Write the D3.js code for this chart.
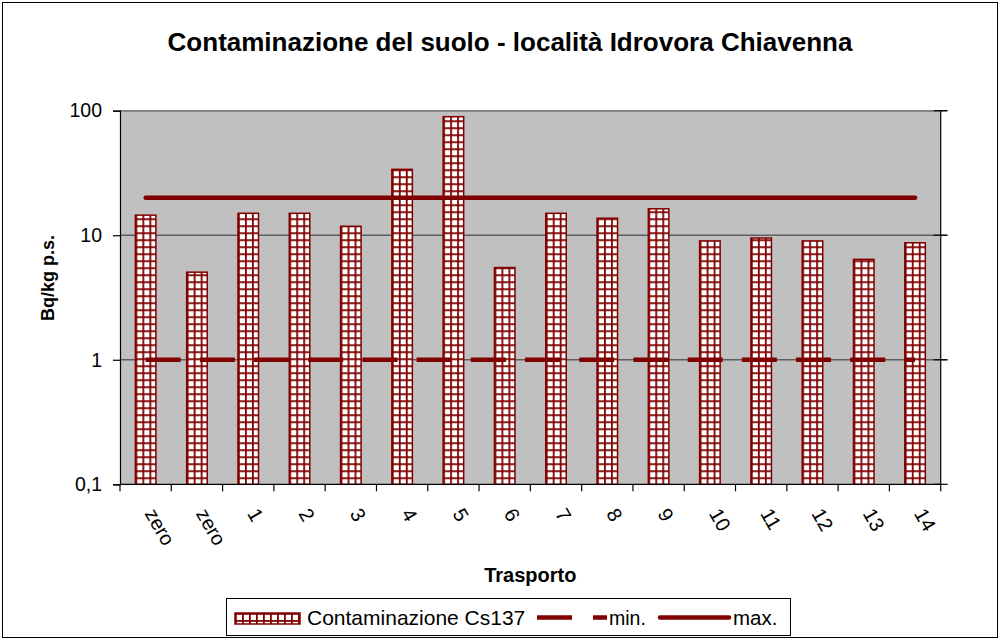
<!DOCTYPE html>
<html>
<head>
<meta charset="utf-8">
<script src="https://cdn.jsdelivr.net/npm/d3@7"></script>
<style>
  html, body { margin: 0; padding: 0; background: #fff; }
  svg { display: block; }
  text { font-family: "Liberation Sans", Arial, sans-serif; fill: #000; }
</style>
</head>
<body>
<svg id="chart" width="1000" height="640"></svg>
<script>
// ---- data ----
const categories = ["zero", "zero", "1", "2", "3", "4", "5", "6", "7", "8", "9", "10", "11", "12", "13", "14"];
const cs137 = [14.5, 5.05, 15.0, 15.0, 11.8, 33.8, 89.5, 5.5, 15.0, 13.7, 16.3, 9.0, 9.5, 9.0, 6.4, 8.7];
const minValues = [1, 1, 1, 1, 1, 1, 1, 1, 1, 1, 1, 1, 1, 1, 1, 1];
const maxValues = [20, 20, 20, 20, 20, 20, 20, 20, 20, 20, 20, 20, 20, 20, 20, 20];
const yTickValues = [0.1, 1, 10, 100];
const yTickLabels = ["0,1", "1", "10", "100"];
const seriesNames = ["Contaminazione Cs137", "min.", "max."];
const titleText = "Contaminazione del suolo - località Idrovora Chiavenna";
const xTitle = "Trasporto";
const yTitle = "Bq/kg p.s.";

// ---- layout ----
const W = 1000, H = 640;
const plot = { left: 120, right: 940.7, top: 110.7, bottom: 484.3 };
const dark = "#800000";

const svg = d3.select("#chart");
const defs = svg.append("defs");

// outer border
svg.append("rect").attr("x", 2.5).attr("y", 2.5).attr("width", W - 5).attr("height", H - 5)
  .attr("fill", "#fff").attr("stroke", "#000").attr("stroke-width", 1);

const idx = categories.map((d, i) => i);
const x = d3.scaleBand().domain(idx).range([plot.left, plot.right]).padding(0);
const step = x.step();
const barW = step * 0.4;
const y = d3.scaleLog().domain([0.1, 100]).range([plot.bottom, plot.top]);

// plot background
svg.append("rect").attr("x", plot.left).attr("y", plot.top)
  .attr("width", plot.right - plot.left).attr("height", plot.bottom - plot.top)
  .attr("fill", "#c0c0c0");

// gridlines
svg.append("g").selectAll("line").data(yTickValues.slice(1)).join("line")
  .attr("x1", plot.left).attr("x2", plot.right + 6)
  .attr("y1", d => y(d)).attr("y2", d => y(d))
  .attr("stroke", "#5e5e5e").attr("stroke-width", 1.5);

// patterns and bars
function makePattern(id, ox, oy) {
  const p = defs.append("pattern").attr("id", id).attr("patternUnits", "userSpaceOnUse")
    .attr("x", ox).attr("y", oy).attr("width", 7).attr("height", 7);
  p.append("rect").attr("width", 7).attr("height", 7).attr("fill", "#fff");
  p.append("rect").attr("x", 0).attr("y", 0).attr("width", 1.8).attr("height", 7).attr("fill", dark);
  p.append("rect").attr("x", 0).attr("y", 0).attr("width", 7).attr("height", 1.8).attr("fill", dark);
}
idx.forEach(i => makePattern("pat" + i, x(i) + step * 0.3, plot.bottom));

svg.append("g").selectAll("rect").data(cs137).join("rect")
  .attr("x", (d, i) => x(i) + step * 0.3)
  .attr("y", d => y(d))
  .attr("width", barW)
  .attr("height", d => plot.bottom - y(d))
  .attr("fill", (d, i) => `url(#pat${i})`)
  .attr("stroke", dark).attr("stroke-width", 1.5);

// min line (dashed) & max line
const line = d3.line().x((d, i) => x(i) + step / 2).y(d => y(d));
svg.append("path").datum(minValues).attr("d", line)
  .attr("fill", "none").attr("stroke", dark).attr("stroke-width", 4.5)
  .attr("stroke-dasharray", "35 19.2");
svg.append("path").datum(maxValues).attr("d", line)
  .attr("fill", "none").attr("stroke", dark).attr("stroke-width", 4.5)
  .attr("stroke-linecap", "round");

// top border of plot
svg.append("line").attr("x1", plot.left).attr("x2", plot.right)
  .attr("y1", plot.top).attr("y2", plot.top).attr("stroke", "#808080").attr("stroke-width", 1.5);

// right "axis" with cross ticks
const rAxis = svg.append("g");
rAxis.append("line").attr("x1", plot.right).attr("x2", plot.right)
  .attr("y1", plot.top).attr("y2", plot.bottom).attr("stroke", "#000").attr("stroke-width", 1.2);
rAxis.selectAll("line.t").data(yTickValues).join("line").attr("class", "t")
  .attr("x1", plot.right - 7).attr("x2", plot.right + 7)
  .attr("y1", d => y(d)).attr("y2", d => y(d)).attr("stroke", "#000").attr("stroke-width", 1.2);

// y axis
const yAxis = d3.axisLeft(y).tickValues(yTickValues)
  .tickFormat((d, i) => yTickLabels[i]).tickSize(7).tickPadding(11);
const gy = svg.append("g").attr("transform", `translate(${plot.left},0)`).call(yAxis);
gy.select(".domain").attr("stroke", "#000").attr("stroke-width", 1.2);
gy.selectAll(".tick line").attr("stroke", "#000").attr("stroke-width", 1.2);
gy.selectAll(".tick text").attr("font-size", 19.5).attr("font-family", "Liberation Sans, Arial, sans-serif");

// x axis (ticks at category boundaries)
const gx = svg.append("g").attr("transform", `translate(0,${plot.bottom})`);
gx.append("line").attr("x1", plot.left).attr("x2", plot.right).attr("y1", 0).attr("y2", 0)
  .attr("stroke", "#000").attr("stroke-width", 1.2);
const bounds = idx.map(i => x(i)).concat([plot.right]);
gx.selectAll("line.t").data(bounds).join("line").attr("class", "t")
  .attr("x1", d => d).attr("x2", d => d).attr("y1", 0).attr("y2", 7)
  .attr("stroke", "#000").attr("stroke-width", 1.2);
gx.selectAll("text").data(categories).join("text")
  .attr("transform", (d, i) => `translate(${x(i) + step / 2 + 11},${22}) rotate(60)`)
  .attr("dy", "0.72em")
  .attr("font-size", 20)
  .text(d => d);

// titles
svg.append("text").attr("x", 510).attr("y", 51).attr("text-anchor", "middle")
  .attr("font-size", 26).attr("font-weight", "bold").text(titleText);
svg.append("text").attr("x", (plot.left + plot.right) / 2).attr("y", 582).attr("text-anchor", "middle")
  .attr("font-size", 20).attr("font-weight", "bold").text(xTitle);
svg.append("text").attr("transform", "translate(54,278) rotate(-90)").attr("text-anchor", "middle")
  .attr("font-size", 18).attr("font-weight", "bold").text(yTitle);

// legend
const lg = svg.append("g");
lg.append("rect").attr("x", 226.5).attr("y", 598.5).attr("width", 564).attr("height", 37)
  .attr("fill", "#fff").attr("stroke", "#000").attr("stroke-width", 1);
makePattern("patLeg", 235, 613);
lg.append("rect").attr("x", 235).attr("y", 613).attr("width", 65).attr("height", 11)
  .attr("fill", "url(#patLeg)").attr("stroke", dark).attr("stroke-width", 1.5);
lg.append("text").attr("x", 307).attr("y", 624.5).attr("font-size", 21).text(seriesNames[0]);
lg.append("line").attr("x1", 537).attr("x2", 607).attr("y1", 617.5).attr("y2", 617.5)
  .attr("stroke", dark).attr("stroke-width", 4.5).attr("stroke-dasharray", "35 21");
lg.append("text").attr("x", 609).attr("y", 624.5).attr("font-size", 19.5).text(seriesNames[1]);
lg.append("line").attr("x1", 660).attr("x2", 729).attr("y1", 617.5).attr("y2", 617.5)
  .attr("stroke", dark).attr("stroke-width", 4.5).attr("stroke-linecap", "round");
lg.append("text").attr("x", 733).attr("y", 624.5).attr("font-size", 20.5).text(seriesNames[2]);
</script>
</body>
</html>
